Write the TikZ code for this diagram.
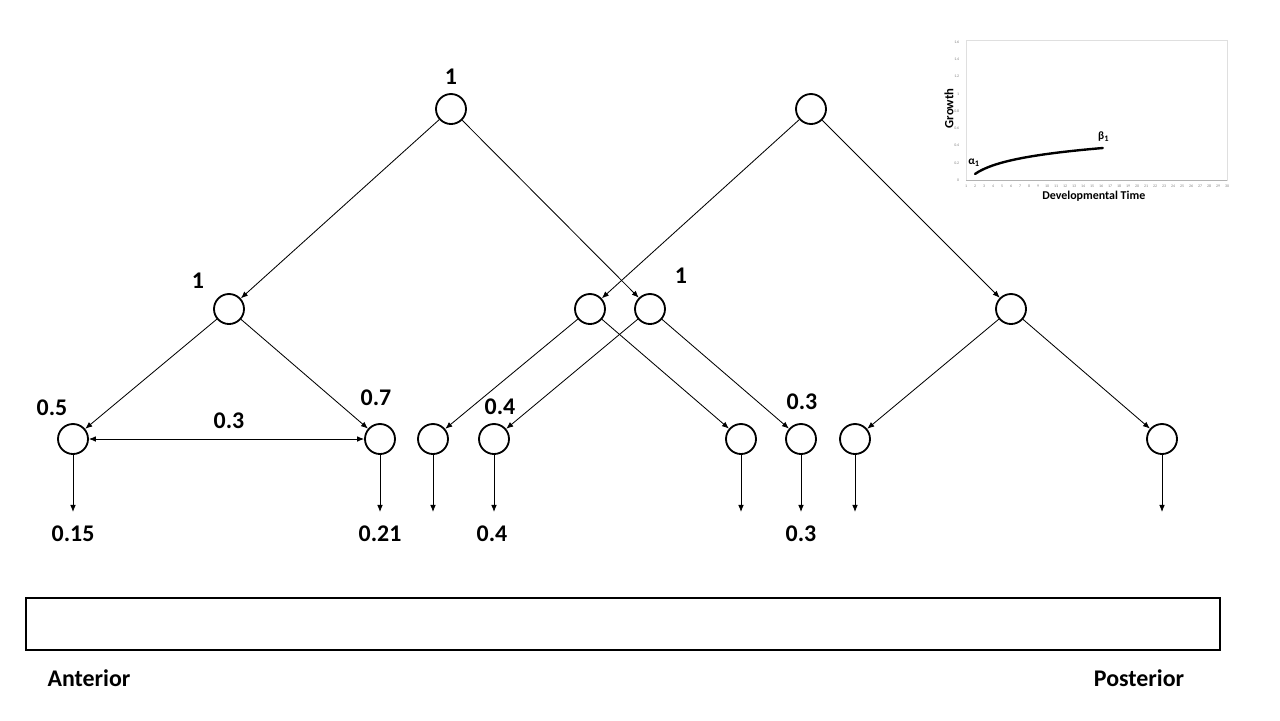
\documentclass[tikz,border=0pt]{standalone}
\usepackage{fontspec}
\setmainfont{Carlito}
\usetikzlibrary{arrows.meta}
\begin{document}
\begin{tikzpicture}[x=0.25mm,y=-0.25mm,
  cell/.style={circle,draw,line width=1.3pt,minimum size=7.5mm,inner sep=0pt},
  lab/.style={font=\fontsize{17}{19}\selectfont\bfseries},
  edge/.style={-{Latex[length=5pt,width=4pt]},line width=0.6pt}]
\useasboundingbox (0,0) rectangle (1280,720);
% roots
\node[cell] (r1) at (451,109) {};
\node[cell] (r2) at (811,109) {};
% middle row
\node[cell] (m1) at (229,309) {};
\node[cell] (m2) at (590,309) {};
\node[cell] (m3) at (650,309) {};
\node[cell] (m4) at (1011,309) {};
% lower row
\foreach \n/\x in {1/73, 2/380, 3/433, 4/494, 5/741, 6/801, 7/855, 8/1162}
  \node[cell] (l\n) at (\x,439) {};
\foreach \a/\b in {r1/m1, r1/m3, r2/m2, r2/m4, m1/l1, m1/l2, m2/l3, m2/l5, m3/l4, m3/l6, m4/l7, m4/l8}
  \draw[edge] (\a) -- (\b);
\draw[edge,{Latex[length=5pt,width=4pt]}-{Latex[length=5pt,width=4pt]}] (l1) -- (l2);
\foreach \n in {1,...,8}{
  \path (l\n.center) ++(0,73) coordinate (d\n);
  \draw[edge] (l\n) -- (d\n);
}
% labels
\node[lab] (w1) at (451,77) {1};
\node[lab] (w2) at (198,281) {1};
\node[lab] (w3) at (681,276) {1};
\node[lab] (w4) at (52,408) {0.5};
\node[lab] (w5) at (376,398) {0.7};
\node[lab] (w6) at (229,421) {0.3};
\node[lab] (w7) at (500,407) {0.4};
\node[lab] (w8) at (802,402) {0.3};
\node[lab] (o1) at (73,534) {0.15};
\node[lab] (o2) at (380,534) {0.21};
\node[lab] (o3) at (492,534) {0.4};
\node[lab] (o4) at (801,534) {0.3};
% body strip
\draw[line width=0.8pt] (26,598) rectangle (1220,650);
\node[lab] (ant) at (89,678) {Anterior};
\node[lab] (post) at (1139,678) {Posterior};
% growth inset
\begin{scope}[shift={(957,180)},x=2.25mm,y=21.5625mm]
  \draw[gray!25,line width=0.4pt] (1,0) rectangle (30,1.62);
  \draw[gray!60,line width=0.4pt] (1,0) -- (30,0);
  \foreach \t in {1,...,30}
    \node[font=\fontsize{2.8}{3}\selectfont,text=gray] (tx\t) at (\t,-0.07) {\t};
  \foreach \v in {0,0.2,0.4,0.6,0.8,1,1.2,1.4,1.6}
    \node[font=\fontsize{2.8}{3}\selectfont,text=gray,anchor=east] (ty\v) at (0.8,\v) {\v};
  \draw[line width=1.7pt,line cap=round,domain=2:16.2,samples=40] plot (\x,{-0.03+0.144*ln(\x)});
  \node[font=\fontsize{8}{9}\selectfont\bfseries] (al) at (1.9,0.2) {α\textsubscript{1}};
  \node[font=\fontsize{8}{9}\selectfont\bfseries] (be) at (16.3,0.5) {β\textsubscript{1}};
  \node[font=\fontsize{9}{10}\selectfont\bfseries,rotate=90] (gr) at (-0.9,0.83) {Growth};
  \node[font=\fontsize{8.5}{10}\selectfont\bfseries] (dt) at (15.2,-0.19) {Developmental Time};
\end{scope}
\end{tikzpicture}
\end{document}
